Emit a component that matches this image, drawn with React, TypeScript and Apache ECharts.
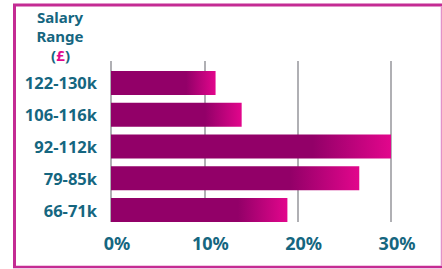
import React, { useEffect, useRef } from "react";
import * as echarts from "echarts";

const categories = ["66-71k", "79-85k", "92-112k", "106-116k", "122-130k"];
const values = [18.9, 26.6, 30.0, 14.0, 11.2];
const xTicks = [0, 10, 20, 30];

const TEAL = "#156680";
const DARK = "#920068";
const PINK = "#e2068c";
const FRAME = "#c42b93";

export default function App() {
  const ref = useRef<HTMLDivElement>(null);
  useEffect(() => {
    if (!ref.current) return;
    const chart = echarts.init(ref.current, null, { renderer: "svg" });
    const grad = new echarts.graphic.LinearGradient(0, 0, 1, 0, [
      { offset: 0, color: DARK },
      { offset: 0.72, color: DARK },
      { offset: 1, color: PINK },
    ]);
    const titleFont = { fontSize: 15, fontWeight: "bold", fontFamily: "Noto Sans", lineHeight: 16 };
    chart.setOption({
      animation: false,
      backgroundColor: "#ffffff",
      textStyle: { fontFamily: "Noto Sans" },
      grid: [
        { left: 111, top: 67, width: 280, height: 159 },
        { left: 111, top: 61, width: 280, height: 161 },
      ],
      xAxis: [
        {
          gridIndex: 0,
          type: "value",
          min: 0,
          max: 30,
          interval: 10,
          axisLine: { show: false },
          axisTick: { show: false },
          splitLine: { show: false },
          axisLabel: {
            margin: 8,
            color: TEAL,
            fontSize: 18,
            fontWeight: "bold",
            fontFamily: "Noto Sans",
            padding: [0, 0, 0, 12],
            formatter: (v: number) => (xTicks.includes(v) ? v + "%" : ""),
          },
        },
        {
          gridIndex: 1,
          type: "value",
          min: 0,
          max: 30,
          interval: 10,
          axisLine: { show: false },
          axisTick: { show: false },
          axisLabel: { show: false },
          splitLine: { show: true, lineStyle: { color: "#b0b0b4", width: 2 } },
        },
      ],
      yAxis: [
        {
          gridIndex: 0,
          type: "category",
          data: categories,
          axisLine: { show: false },
          axisTick: { show: false },
          axisLabel: {
            margin: 14,
            color: TEAL,
            fontSize: 16.5,
            fontWeight: "bold",
            fontFamily: "Noto Sans",
          },
        },
        {
          gridIndex: 1,
          type: "category",
          data: categories,
          show: false,
        },
      ],
      series: [
        {
          type: "bar",
          xAxisIndex: 0,
          yAxisIndex: 0,
          data: values,
          barWidth: 24,
          itemStyle: { color: grad },
          z: 5,
        },
      ],
      graphic: [
        {
          type: "text",
          x: 60,
          y: 17,
          style: { ...titleFont, text: "Salary", fill: TEAL, align: "center", verticalAlign: "middle" },
        },
        {
          type: "text",
          x: 60,
          y: 36,
          style: { ...titleFont, text: "Range", fill: TEAL, align: "center", verticalAlign: "middle" },
        },
        {
          type: "text",
          x: 56,
          y: 55,
          style: { ...titleFont, text: "(", fill: TEAL, align: "right", verticalAlign: "middle" },
        },
        {
          type: "text",
          x: 60.5,
          y: 55,
          style: { ...titleFont, text: "£", fill: PINK, align: "center", verticalAlign: "middle" },
        },
        {
          type: "text",
          x: 65,
          y: 55,
          style: { ...titleFont, text: ")", fill: TEAL, align: "left", verticalAlign: "middle" },
        },
        { type: "line", shape: { x1: 13, y1: 5, x2: 442, y2: 5 }, style: { stroke: FRAME, lineWidth: 3 } },
        { type: "line", shape: { x1: 14.5, y1: 4, x2: 14.5, y2: 268 }, style: { stroke: FRAME, lineWidth: 3 } },
        { type: "line", shape: { x1: 13, y1: 267, x2: 442, y2: 267 }, style: { stroke: FRAME, lineWidth: 2.5 } },
        { type: "line", shape: { x1: 441.5, y1: 6, x2: 441.5, y2: 266 }, style: { stroke: "#e290c9", lineWidth: 1.5 } },
      ],
    });
    return () => chart.dispose();
  }, []);
  return (
    <div
      ref={ref}
      style={{ width: 442, height: 269, position: "absolute", left: 0, top: 0 }}
    />
  );
}
